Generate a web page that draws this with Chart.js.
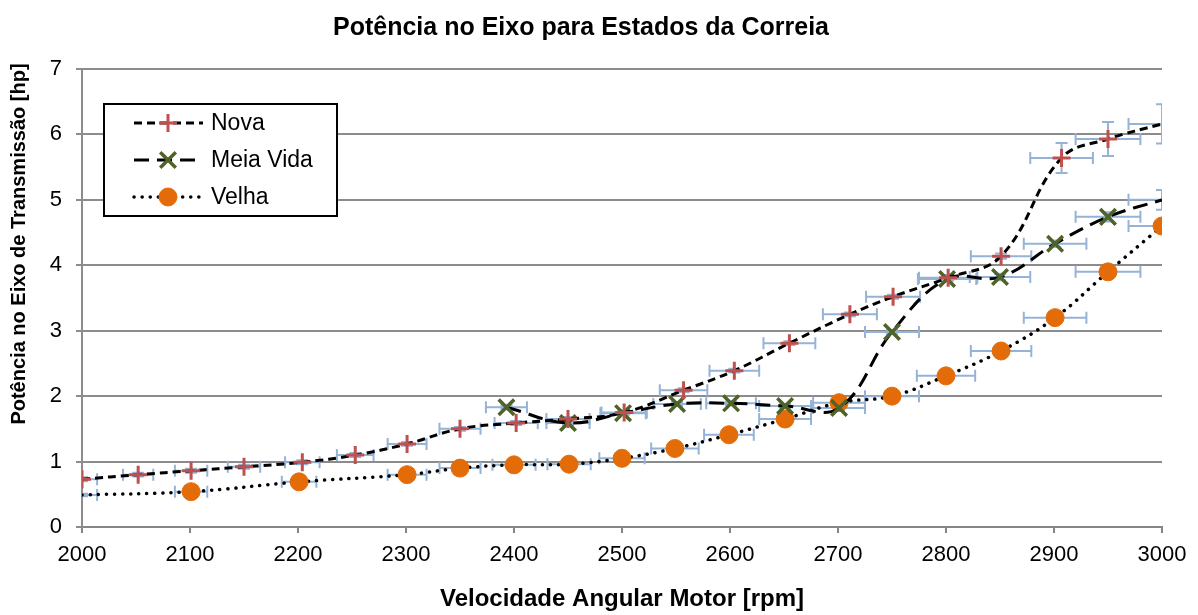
<!DOCTYPE html>
<html>
<head>
<meta charset="utf-8">
<script src="https://cdn.jsdelivr.net/npm/chart.js@4/dist/chart.umd.min.js"></script>
<style>
  html, body { margin: 0; padding: 0; background: #fff; }
  #wrap { width: 1198px; height: 615px; }
</style>
</head>
<body>
<div id="wrap"><canvas id="powerChart" width="1198" height="615"></canvas></div>
<script>
// series (rpm, hp, error half-widths)
const novaX    = [2000, 2052, 2101, 2150, 2204, 2253, 2301, 2350, 2402, 2450, 2502, 2557, 2604, 2655, 2711, 2751, 2802, 2851, 2907, 2950, 3000];
const novaY    = [0.73, 0.80, 0.86, 0.92, 0.99, 1.10, 1.27, 1.50, 1.59, 1.65, 1.75, 2.09, 2.39, 2.81, 3.25, 3.52, 3.81, 4.14, 5.64, 5.93, 6.16];
const novaXErr = [14, 14, 15, 15, 16, 17, 18, 19, 20, 20, 21, 22, 23, 24, 25, 25, 27, 28, 29, 30, 31];
const novaYErr = [0.03, 0.03, 0.03, 0.03, 0.03, 0.03, 0.03, 0.03, 0.03, 0.03, 0.03, 0.03, 0.03, 0.03, 0.03, 0.03, 0.04, 0.04, 0.23, 0.26, 0.30];

const meiaX    = [2393, 2450, 2501, 2551, 2601, 2651, 2701, 2750, 2801, 2850, 2901, 2950, 3000];
const meiaY    = [1.83, 1.59, 1.74, 1.88, 1.89, 1.85, 1.82, 2.98, 3.79, 3.82, 4.33, 4.74, 5.00];
const meiaXErr = [19, 20, 21, 22, 23, 24, 24, 25, 27, 28, 29, 30, 31];
const meiaYErr = [0.03, 0.03, 0.03, 0.03, 0.03, 0.03, 0.03, 0.03, 0.04, 0.05, 0.05, 0.07, 0.15];

const velhaX    = [2000, 2101, 2201, 2301, 2350, 2400, 2451, 2500, 2549, 2599, 2651, 2701, 2750, 2800, 2851, 2901, 2950, 3000];
const velhaY    = [0.49, 0.54, 0.69, 0.80, 0.90, 0.95, 0.96, 1.05, 1.20, 1.41, 1.65, 1.90, 2.00, 2.31, 2.69, 3.20, 3.90, 4.60];
const velhaXErr = [14, 15, 16, 18, 19, 20, 20, 21, 22, 23, 24, 24, 25, 27, 28, 29, 30, 31];
const velhaYErr = [0.02, 0.02, 0.02, 0.02, 0.02, 0.02, 0.02, 0.02, 0.02, 0.02, 0.02, 0.02, 0.02, 0.02, 0.02, 0.02, 0.02, 0.02];

const seriesNames = ['Nova', 'Meia Vida', 'Velha'];
const yTicks = [0, 1, 2, 3, 4, 5, 6, 7];
const yTitle = 'Potência no Eixo de Transmissão [hp]';

const FONT = '"Liberation Sans", Arial, sans-serif';

function points(xs, ys) {
    return xs.map((x, i) => ({ x: x, y: ys[i] }));
}

// Nova and Meia Vida end without a marker at 3000, Velha starts without one at 2000
function radii(n, r, hideFirst, hideLast) {
    return Array.from({ length: n }, (_, i) => ((hideFirst && i === 0) || (hideLast && i === n - 1)) ? 0 : r);
}

// horizontal + vertical error bars, drawn under the lines
const errorBars = {
    id: 'errorBars',
    beforeDatasetsDraw(chart) {
        const { ctx, chartArea: a, scales: { x, y } } = chart;
        ctx.save();
        ctx.beginPath();
        ctx.rect(a.left, a.top, a.right - a.left, a.bottom - a.top);
        ctx.clip();
        ctx.strokeStyle = '#95b3d7';
        ctx.lineWidth = 2;
        const cap = 6;
        chart.data.datasets.forEach(ds => {
            ds.data.forEach((p, i) => {
                const px = x.getPixelForValue(p.x);
                const py = y.getPixelForValue(p.y);
                const x0 = x.getPixelForValue(p.x - ds.errX[i]);
                const x1 = x.getPixelForValue(p.x + ds.errX[i]);
                const y0 = y.getPixelForValue(p.y - ds.errY[i]);
                const y1 = y.getPixelForValue(p.y + ds.errY[i]);
                ctx.beginPath();
                ctx.moveTo(x0, py); ctx.lineTo(x1, py);
                ctx.moveTo(x0, py - cap); ctx.lineTo(x0, py + cap);
                ctx.moveTo(x1, py - cap); ctx.lineTo(x1, py + cap);
                ctx.moveTo(px, y0); ctx.lineTo(px, y1);
                ctx.moveTo(px - cap, y0); ctx.lineTo(px + cap, y0);
                ctx.moveTo(px - cap, y1); ctx.lineTo(px + cap, y1);
                ctx.stroke();
            });
        });
        ctx.restore();
    }
};

// y axis title sits higher than the plot centre in the original
const yAxisTitle = {
    id: 'yAxisTitle',
    afterDraw(chart) {
        const ctx = chart.ctx;
        ctx.save();
        ctx.translate(19, 244);
        ctx.rotate(-Math.PI / 2);
        ctx.fillStyle = '#000';
        ctx.font = 'bold 20px ' + FONT;
        ctx.textAlign = 'center';
        ctx.textBaseline = 'middle';
        ctx.fillText(yTitle, 0, 0);
        ctx.restore();
    }
};

// boxed legend inside the plot, line sample with marker in the middle
const boxLegend = {
    id: 'boxLegend',
    afterDraw(chart) {
        const ctx = chart.ctx;
        const bx = 104, by = 104, bw = 233, bh = 112;
        ctx.save();
        ctx.fillStyle = '#fff';
        ctx.fillRect(bx, by, bw, bh);
        ctx.strokeStyle = '#000';
        ctx.lineWidth = 2;
        ctx.strokeRect(bx, by, bw, bh);
        const rows = [123, 160, 197];
        chart.data.datasets.forEach((ds, i) => {
            const yy = rows[i];
            ctx.save();
            ctx.strokeStyle = ds.borderColor;
            ctx.lineWidth = ds.borderWidth;
            ctx.lineCap = ds.borderCapStyle || 'butt';
            ctx.setLineDash(ds.borderDash || []);
            ctx.beginPath();
            ctx.moveTo(134, yy);
            ctx.lineTo(203, yy);
            ctx.stroke();
            ctx.restore();
            ctx.save();
            ctx.strokeStyle = ds.pointBorderColor;
            ctx.fillStyle = ds.pointBackgroundColor;
            ctx.lineWidth = ds.pointBorderWidth;
            Chart.helpers.drawPoint(ctx, {
                pointStyle: ds.pointStyle,
                radius: ds.legendRadius,
                rotation: 0,
                borderWidth: ds.pointBorderWidth
            }, 168, yy);
            ctx.restore();
            ctx.fillStyle = '#000';
            ctx.font = '23px ' + FONT;
            ctx.textBaseline = 'middle';
            ctx.fillText(ds.label, 211, yy + 1);
        });
        ctx.restore();
    }
};

document.addEventListener('DOMContentLoaded', () => {
    const ctx = document.getElementById('powerChart').getContext('2d');

    new Chart(ctx, {
        type: 'line',
        data: {
            datasets: [
                {
                    label: seriesNames[0],
                    data: points(novaX, novaY),
                    errX: novaXErr,
                    errY: novaYErr,
                    borderColor: '#000',
                    borderWidth: 3,
                    borderDash: [8, 5],
                    tension: 0.4,
                    pointStyle: 'cross',
                    pointRadius: radii(novaX.length, 9, false, true),
                    legendRadius: 9,
                    pointBorderColor: '#c0504d',
                    pointBackgroundColor: '#c0504d',
                    pointBorderWidth: 3
                },
                {
                    label: seriesNames[1],
                    data: points(meiaX, meiaY),
                    errX: meiaXErr,
                    errY: meiaYErr,
                    borderColor: '#000',
                    borderWidth: 3,
                    borderDash: [15, 8],
                    tension: 0.4,
                    pointStyle: 'crossRot',
                    pointRadius: radii(meiaX.length, 11, false, true),
                    legendRadius: 11,
                    pointBorderColor: '#4f6228',
                    pointBackgroundColor: '#4f6228',
                    pointBorderWidth: 3.5
                },
                {
                    label: seriesNames[2],
                    data: points(velhaX, velhaY),
                    errX: velhaXErr,
                    errY: velhaYErr,
                    borderColor: '#000',
                    borderWidth: 3.5,
                    borderDash: [0.1, 8],
                    borderCapStyle: 'round',
                    tension: 0.4,
                    pointStyle: 'circle',
                    pointRadius: radii(velhaX.length, 9, true, false),
                    legendRadius: 9,
                    pointBorderColor: '#e36c09',
                    pointBackgroundColor: '#e36c09',
                    pointBorderWidth: 1
                }
            ]
        },
        options: {
            responsive: false,
            animation: false,
            layout: { padding: { left: 0, right: 36, top: 0, bottom: 0 } },
            plugins: {
                legend: { display: false },
                tooltip: { enabled: false },
                title: {
                    display: true,
                    text: 'Potência no Eixo para Estados da Correia',
                    color: '#000',
                    font: { family: FONT, size: 25, weight: 'bold' },
                    padding: { top: 13, bottom: 26 }
                }
            },
            scales: {
                x: {
                    type: 'linear',
                    min: 2000,
                    max: 3000,
                    afterFit: s => { s.height = 88; },
                    ticks: {
                        stepSize: 100,
                        color: '#000',
                        font: { family: FONT, size: 22 },
                        padding: 9,
                        maxRotation: 0,
                        callback: v => String(v)
                    },
                    grid: { drawOnChartArea: false, drawTicks: true, tickLength: 6, tickColor: '#868686', lineWidth: 2 },
                    border: { display: true, color: '#868686', width: 2 },
                    title: {
                        display: true,
                        text: 'Velocidade Angular Motor [rpm]',
                        color: '#000',
                        font: { family: FONT, size: 24, weight: 'bold' },
                        padding: { top: 0, bottom: 1 }
                    }
                },
                y: {
                    min: 0,
                    max: 7,
                    afterFit: s => { s.width = 82; },
                    afterBuildTicks: s => { s.ticks = yTicks.map(v => ({ value: v })); },
                    ticks: {
                        color: '#000',
                        font: { family: FONT, size: 22 },
                        padding: 14
                    },
                    grid: { color: '#8c8c8c', lineWidth: 2, tickLength: 6, tickColor: '#8c8c8c' },
                    border: { display: true, color: '#8c8c8c', width: 2 },
                    title: { display: false }
                }
            }
        },
        plugins: [errorBars, yAxisTitle, boxLegend]
    });
});
</script>
</body>
</html>
